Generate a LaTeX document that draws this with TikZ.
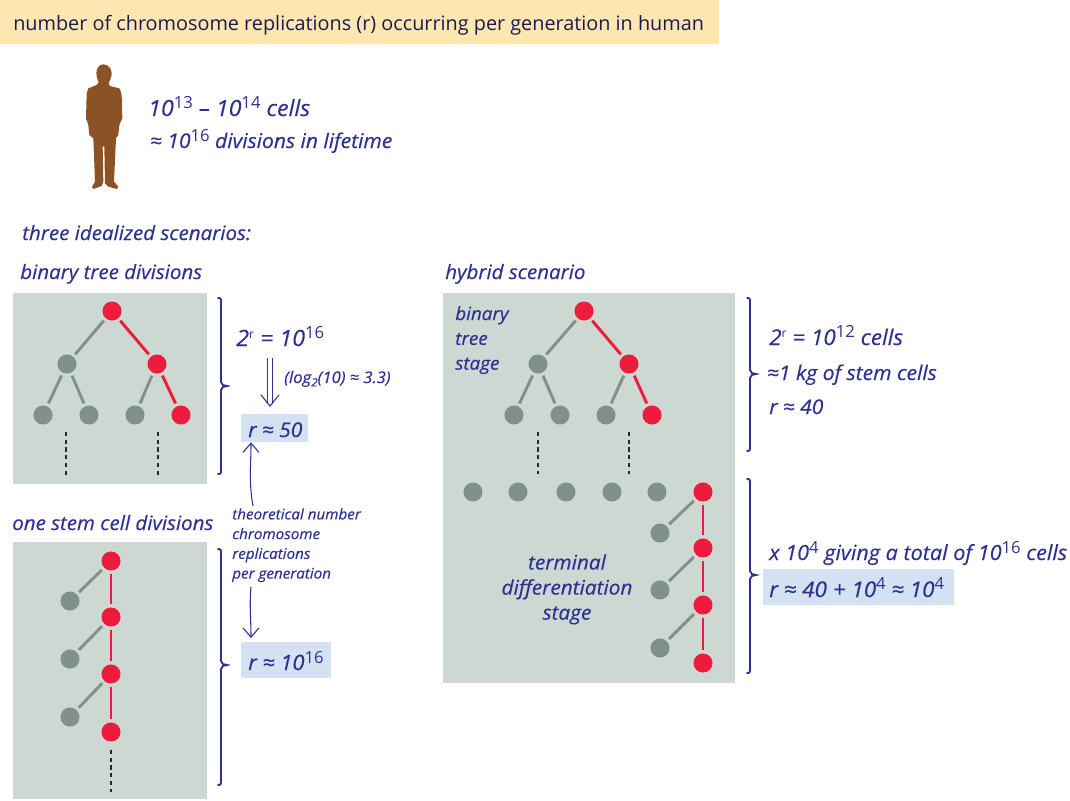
\documentclass[tikz,border=0pt]{standalone}
\usepackage{fontspec}
\setmainfont{Open Sans}[ItalicFeatures={FakeBold=0.35,FakeStretch=1.04}]
\usetikzlibrary{arrows.meta}
\definecolor{ink}{HTML}{2E3192}
\definecolor{panel}{HTML}{CDD8D2}
\definecolor{cellg}{HTML}{7F918A}
\definecolor{cellr}{HTML}{EE1C3C}
\definecolor{hilite}{HTML}{D3E1F3}
\definecolor{banner}{HTML}{FDE6B0}
\definecolor{skin}{HTML}{8B5226}
\newcommand{\spr}[1]{\raisebox{0.62ex}{\upshape\fontsize{12.5}{13}\selectfont #1}}
\newcommand{\sprs}[1]{\raisebox{0.62ex}{\upshape\fontsize{9}{10}\selectfont #1}}
\tikzset{
 txt/.style={anchor=base west,inner sep=0pt,text=ink,font=\fontsize{15.2}{18}\selectfont\itshape},
 bigtxt/.style={txt,font=\fontsize{16.2}{19}\selectfont\itshape},
 head/.style={txt,font=\fontsize{14.8}{17}\selectfont\itshape},
 small/.style={txt,font=\fontsize{12}{14}\selectfont\itshape},
 gcell/.style={circle,fill=cellg,draw=none,minimum size=14.3pt,inner sep=0pt,outer sep=2.4pt},
 rcell/.style={circle,fill=cellr,draw=none,minimum size=14.3pt,inner sep=0pt,outer sep=2.4pt},
 hibox/.style={fill=hilite,draw=none,inner sep=0pt},
 gline/.style={draw=cellg,line width=2.2pt},
 rline/.style={draw=cellr,line width=2.2pt},
 dashline/.style={draw=black!85,line width=1pt,dash pattern=on 3.2pt off 2.6pt},
 brace/.style={draw=ink,line width=1.4pt,line cap=round},
 arrowline/.style={draw=ink,line width=0.8pt,-{Straight Barb[length=7pt,width=12pt,line width=0.8pt]}},
}
\newcommand{\bracepath}[4]{% x, top, tip, bottom
 \draw[brace] (#1,#2) -- ++(1,0) to[out=0,in=90] ++(2,2) -- (#1+3,#3-4)
   to[out=-90,in=180] (#1+9,#3) to[out=180,in=90] (#1+3,#3+4) -- (#1+3,#4-2)
   to[out=-90,in=0] ++(-2,2) -- (#1,#4);}
\begin{document}
\begin{tikzpicture}[x=0.75pt,y=-0.75pt]
\useasboundingbox (0,0) rectangle (1070,800);
% banner
\fill[banner] (0,0) rectangle (719,44);
\node[txt,font=\fontsize{14.87}{18}\selectfont,text=ink!55!black] (title) at (13,30) {number of chromosome replications (r) occurring per generation in human};
% person
\begin{scope}[shift={(60,50)},x=0.25pt,y=-0.25pt]
\fill[skin] (130,43) to[out=0,in=90] (155,70) to[out=-90,in=70] (146,100) -- (150,108)
 -- (178,115) to[out=-70,in=90] (185,135) -- (187,205) -- (178,225) -- (175,255) -- (168,265)
 -- (165,330) -- (162,395) -- (175,410) -- (170,417) -- (145,410) -- (135,400) -- (133,290) -- (128,290)
 -- (130,395) -- (125,408) -- (100,417) -- (96,410) -- (105,395) -- (100,265) -- (88,255)
 -- (85,225) -- (78,205) -- (80,130) to[out=90,in=-120] (85,115) -- (110,105) -- (116,97)
 to[out=110,in=-90] (109,70) to[out=90,in=180] cycle;
\end{scope}
\node[txt,font=\fontsize{16.7}{19}\selectfont\itshape] (cells) at (148,116) {10\spr{13} – 10\spr{14} cells};
\node[txt] (divs) at (150,148) {≈ 10\spr{16} divisions in lifetime};
\node[head] (three) at (22,240) {three idealized scenarios:};
\node[head] (binlab) at (20,279) {binary tree divisions};
\node[head] (hyblab) at (445,279) {hybrid scenario};
\node[head] (onelab) at (12,530) {one stem cell divisions};
% panels
\fill[panel] (13,293) rectangle (207,484);
\fill[panel] (13,542) rectangle (207,799);
\fill[panel] (443,293) rectangle (735,683);
% tree 1
\foreach \n/\x/\y/\s in {a1/112/311/rcell,a2/67/364/gcell,a3/157/364/rcell,a4/43/415/gcell,a5/89/415/gcell,a6/135/415/gcell,a7/181/415/rcell}
  \node[\s] (\n) at (\x,\y) {};
\draw[gline] (a1)--(a2) (a2)--(a4) (a2)--(a5) (a3)--(a6);
\draw[rline] (a1)--(a3) (a3)--(a7);
\coordinate (d1a) at (66,432); \coordinate (d1b) at (66,477);
\coordinate (d2a) at (158,432); \coordinate (d2b) at (158,477);
\draw[dashline] (d1a)--(d1b) (d2a)--(d2b);
% one stem
\foreach \n/\x/\y/\s in {b1/111/561/rcell,b2/111/617/rcell,b3/111/674/rcell,b4/111/732/rcell,b5/70/601/gcell,b6/70/659/gcell,b7/70/717/gcell}
  \node[\s] (\n) at (\x,\y) {};
\draw[rline] (b1)--(b2) (b2)--(b3) (b3)--(b4);
\draw[gline] (b1)--(b5) (b2)--(b6) (b3)--(b7);
\coordinate (d3a) at (111,750); \coordinate (d3b) at (111,792);
\draw[dashline] (d3a)--(d3b);
% hybrid
\foreach \n/\x/\y/\s in {c1/584/311/rcell,c2/538/364/gcell,c3/629/364/rcell,c4/514/415/gcell,c5/560/415/gcell,c6/606/415/gcell,c7/652/415/rcell,
  e1/473/492/gcell,e2/518/492/gcell,e3/566/492/gcell,e4/612/492/gcell,e5/657/492/gcell,
  f1/703/492/rcell,f2/703/548/rcell,f3/703/605/rcell,f4/703/663/rcell,f5/660/533/gcell,f6/660/590/gcell,f7/660/648/gcell}
  \node[\s] (\n) at (\x,\y) {};
\draw[gline] (c1)--(c2) (c2)--(c4) (c2)--(c5) (c3)--(c6);
\draw[rline] (c1)--(c3) (c3)--(c7);
\draw[rline] (f1)--(f2) (f2)--(f3) (f3)--(f4);
\draw[gline] (f1)--(f5) (f2)--(f6) (f3)--(f7);
\coordinate (d4a) at (538,432); \coordinate (d4b) at (538,474);
\coordinate (d5a) at (629,432); \coordinate (d5b) at (629,474);
\draw[dashline] (d4a)--(d4b) (d5a)--(d5b);
\node[txt,align=left,font=\fontsize{13.6}{18.6}\selectfont\itshape,anchor=north west] (bts) at (455,306) {binary\\tree\\stage};
\node[txt,align=center,font=\fontsize{15}{18.8}\selectfont\itshape,anchor=north] (tds) at (567,554) {terminal\\differentiation\\stage};
% braces
\bracepath{218}{298}{386}{474}
\bracepath{218}{549}{665}{785}
\bracepath{747}{298}{374}{451}
\bracepath{747}{479}{575}{673}
% highlights
\node[hibox,minimum width=50.25pt,minimum height=21pt] (r50box) at (274.5,428) {};
\node[hibox,minimum width=67.5pt,minimum height=27pt] (r16box) at (286,660) {};
\node[hibox,minimum width=143.25pt,minimum height=27pt] (r40box) at (858.5,587) {};
% right text
\node[bigtxt,font=\fontsize{16.8}{19}\selectfont\itshape] (eq16) at (236,346) {2\sprs{r} = 10\spr{16}};
\node[small] (log) at (284,383) {(log\raisebox{-0.4ex}{\fontsize{8.5}{9}\selectfont 2}(10) ≈ 3.3)};
\node[txt] (r50) at (248,437) {r ≈ 50};
\node[small,align=left,anchor=north west,font=\fontsize{10.95}{14.8}\selectfont\itshape] (theory) at (232,508) {theoretical number\\chromosome\\replications\\per generation};
\node[bigtxt,font=\fontsize{15.8}{19}\selectfont\itshape] (r16) at (248,670) {r ≈ 10\spr{16}};
\node[bigtxt] (eq12) at (769,345) {2\sprs{r} = 10\spr{12} cells};
\node[txt] (kg) at (767,380) {≈1 kg of stem cells};
\node[txt] (r40) at (769,414) {r ≈ 40};
\node[txt,font=\fontsize{15.6}{18}\selectfont\itshape] (tot) at (769,560) {x 10\spr{4} giving a total of 10\spr{16} cells};
\node[bigtxt] (rsum) at (769,597) {r ≈ 40 + 10\spr{4} ≈ 10\spr{4}};
% arrows
\coordinate (da) at (270,358); \coordinate (db) at (270,404);
\draw[draw=ink,line width=0.8pt,double=white,double distance=2.6pt] (da)--(db);
\draw[draw=ink,line width=0.8pt,line cap=round] (261,395)--(270,406)--(279,395);
\coordinate (up) at (253,506);
\draw[arrowline] (up) to[out=100,in=-90] (r50box.south -| 251,447);
\coordinate (dn) at (251,587);
\draw[arrowline] (dn) to[out=-95,in=90] (251,638);
\end{tikzpicture}
\end{document}
